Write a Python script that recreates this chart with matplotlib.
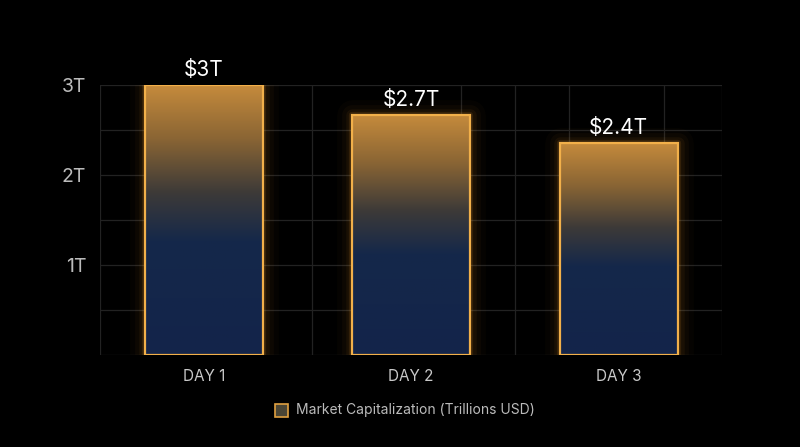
import matplotlib
matplotlib.use("Agg")
import matplotlib.pyplot as plt
import numpy as np
from matplotlib.colors import LinearSegmentedColormap
from matplotlib.patches import Rectangle

plt.rcParams['font.family'] = ['Inter', 'DejaVu Sans']

categories = ["DAY 1", "DAY 2", "DAY 3"]
values = [3.0, 2.67, 2.36]
labels = ["$3T", "$2.7T", "$2.4T"]
yticks = [1, 2, 3]
ytick_labels = ["1T", "2T", "3T"]

fig = plt.figure(figsize=(8, 4.47), dpi=100, facecolor="black")
ax = fig.add_axes([0.125, 0.205, 0.778, 0.605], facecolor="black")
ax.set_xlim(-0.5, 2.5)
ax.set_ylim(0, 3)

for y in np.arange(0, 3.01, 0.5):
    ax.axhline(y, color="#222222", lw=0.9, zorder=0)
for x in [-0.5, 0.52, 1.24, 1.5, 1.76, 2.22, 2.5]:
    ax.axvline(x, color="#222222", lw=0.9, zorder=0)

cmap = LinearSegmentedColormap.from_list("g", [(0, "#13244a"), (0.42, "#15284a"), (0.6, "#3d3a38"), (0.8, "#8a6534"), (1, "#c68b3c")])
w = 0.57
for i, v in enumerate(values):
    x0 = i - w / 2
    for lw, a in [(22, 0.025), (15, 0.035), (9, 0.06), (4.5, 0.12)]:
        ax.add_patch(Rectangle((x0, 0), w, v, fill=False, ec="#f0a030", lw=lw, alpha=a, zorder=2, joinstyle="round"))
    grad = np.linspace(0, 1, 256).reshape(-1, 1)
    im = ax.imshow(grad, extent=[x0, x0 + w, 0, v], origin="lower", cmap=cmap, aspect="auto", zorder=3)
    clip = Rectangle((x0, 0), w, v, transform=ax.transData)
    im.set_clip_path(clip)
    ax.add_patch(Rectangle((x0, 0), w, v, fill=False, ec="#f2b04a", lw=1.6, zorder=4))
    ax.text(i, v + 0.05, labels[i], ha="center", va="bottom", color="white", fontsize=15, zorder=5)

ax.set_xticks(range(len(categories)))
ax.set_xticklabels(categories, color="#c8c8c8", fontsize=11)
ax.set_yticks(yticks)
ax.set_yticklabels(ytick_labels, color="#bbbbbb", fontsize=14)
ax.tick_params(length=0, pad=10)
for s in ax.spines.values():
    s.set_visible(False)
ax.set_xlim(-0.5, 2.5)
ax.set_ylim(0, 3)

fig.patches.append(Rectangle((0.344, 0.068), 0.016, 0.028, transform=fig.transFigure,
                             fc="#4a4535", ec="#e0a040", lw=1.2))
fig.text(0.37, 0.082, "Market Capitalization (Trillions USD)", color="#bbbbbb", fontsize=10, va="center")

fig.savefig("out.png", facecolor="black")
